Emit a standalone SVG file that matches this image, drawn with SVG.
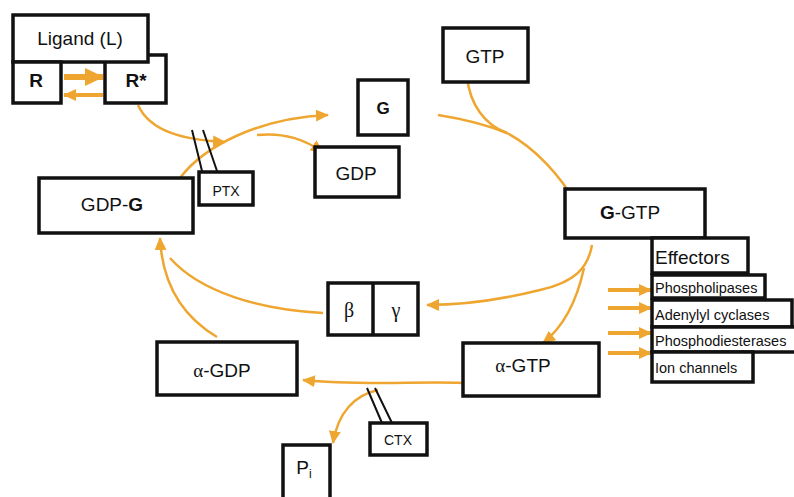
<svg xmlns="http://www.w3.org/2000/svg" width="794" height="497" viewBox="0 0 794 497">
<style>
.box{fill:#fff;stroke:#111;stroke-width:3.5}
.t{font-family:"Liberation Sans",Arial,sans-serif;font-size:19px;fill:#111;text-anchor:middle}
.s{font-family:"Liberation Serif","Times New Roman",serif;font-size:20px;fill:#111;text-anchor:middle}
.e{font-family:"Liberation Sans",Arial,sans-serif;font-size:14.5px;fill:#111}
.c{fill:none;stroke:#EFA630;stroke-width:2.5}
.tox{stroke:#111;stroke-width:2;fill:none}
</style>
<defs>
<marker id="ah" markerUnits="userSpaceOnUse" markerWidth="20" markerHeight="18" refX="18" refY="9" orient="auto">
<path d="M0,0 L19,9 L0,18 Z" fill="#EFA630"/>
</marker>
<marker id="ahs" markerUnits="userSpaceOnUse" markerWidth="14" markerHeight="12" refX="12" refY="6" orient="auto">
<path d="M0,0 L13,6 L0,12 Z" fill="#EFA630"/>
</marker>
</defs>

<g id="connectors">
<path class="c" d="M64,77 L103,77" style="stroke-width:6" marker-end="url(#ah)"/>
<path class="c" d="M103,95 L64,95" style="stroke-width:4" marker-end="url(#ahs)"/>
<path class="c" d="M138,105 C150,132 185,140 225,142" marker-end="url(#ahs)"/>
<path class="c" d="M180,178 C205,145 260,118 328,115" marker-end="url(#ahs)"/>
<path class="c" d="M257,135 C285,132 305,140 323,152" marker-end="url(#ahs)"/>
<path class="c" d="M467,77 C470,105 485,125 507,133"/>
<path class="c" d="M438,115 C470,120 492,127 507,133 C535,148 560,175 577,205" marker-end="url(#ahs)"/>
<path class="c" d="M592,245 C588,268 575,282 540,290 C500,300 460,305 427,305" marker-end="url(#ahs)"/>
<path class="c" d="M584,268 C576,305 562,328 543,343" marker-end="url(#ahs)"/>
<path class="c" d="M463,383 C420,381 360,386 303,380" marker-end="url(#ahs)"/>
<path class="c" d="M378,390 C355,395 338,412 333,443" marker-end="url(#ahs)"/>
<path class="c" d="M217,337 C180,315 162,280 160,238" marker-end="url(#ahs)"/>
<path class="c" d="M323,313 C260,310 200,292 170,258"/>
<path class="c" d="M608,290 L651,290" style="stroke-width:4" marker-end="url(#ahs)"/>
<path class="c" d="M608,308 L651,308" style="stroke-width:4" marker-end="url(#ahs)"/>
<path class="c" d="M608,333 L651,333" style="stroke-width:4" marker-end="url(#ahs)"/>
<path class="c" d="M608,353 L651,353" style="stroke-width:4" marker-end="url(#ahs)"/>
<path class="tox" d="M192,130 L202,171 M203,130 L217,171"/>
<path class="tox" d="M367,388 L382,423 M375,388 L392,423"/>
</g>

<g id="node-rstar"><rect class="box" x="105" y="55" width="61" height="48"/><text class="t" x="136" y="87" style="font-weight:bold">R*</text></g>
<g id="node-ligand"><rect class="box" x="13" y="15" width="135" height="47"/><text class="t" x="80" y="45">Ligand (L)</text></g>
<g id="node-r"><rect class="box" x="13" y="62" width="48" height="41"/><text class="t" x="36" y="87" style="font-weight:bold">R</text></g>
<g id="node-g"><rect class="box" x="358" y="80" width="50" height="55"/><text class="t" x="383" y="114" style="font-weight:bold;font-size:17px">G</text></g>
<g id="node-gtp"><rect class="box" x="443" y="28" width="85" height="54"/><text class="t" x="485" y="63">GTP</text></g>
<g id="node-gdp"><rect class="box" x="315" y="147" width="84" height="50"/><text class="t" x="356" y="180">GDP</text></g>
<g id="node-gdpg"><rect class="box" x="39" y="178" width="154" height="55"/><text class="t" x="112" y="211">GDP-<tspan style="font-weight:bold">G</tspan></text></g>
<g id="node-ptx"><rect class="box" x="199" y="172" width="54" height="33"/><text class="t" x="226" y="196" style="font-size:14px">PTX</text></g>
<g id="node-ggtp"><rect class="box" x="565" y="189" width="140" height="49"/><text class="t" x="630" y="219"><tspan style="font-weight:bold">G</tspan>-GTP</text></g>
<g id="node-effectors"><rect class="box" x="652" y="238" width="96" height="35"/><text class="e" x="655" y="264" style="font-size:19px">Effectors</text></g>
<g id="node-phospholipases"><rect class="box" x="652" y="275" width="113" height="23"/><text class="e" x="655" y="293">Phospholipases</text></g>
<g id="node-adenylyl"><rect class="box" x="652" y="300" width="140" height="27"/><text class="e" x="655" y="320">Adenylyl cyclases</text></g>
<g id="node-phosphodiesterases"><rect class="box" x="652" y="327" width="150" height="25"/><text class="e" x="655" y="346">Phosphodiesterases</text></g>
<g id="node-ion"><rect class="box" x="652" y="352" width="101" height="30"/><text class="e" x="655" y="373">Ion channels</text></g>
<g id="node-betagamma"><rect class="box" x="328" y="283" width="90" height="52"/><line x1="373" y1="283" x2="373" y2="335" stroke="#111" stroke-width="3.5"/><text class="s" x="349" y="317">β</text><text class="s" x="396" y="317">γ</text></g>
<g id="node-agtp"><rect class="box" x="463" y="343" width="136" height="53"/><text class="t" x="523" y="372"><tspan style="font-family:'Liberation Serif',serif">α</tspan>-GTP</text></g>
<g id="node-agdp"><rect class="box" x="157" y="342" width="140" height="53"/><text class="t" x="222" y="377"><tspan style="font-family:'Liberation Serif',serif">α</tspan>-GDP</text></g>
<g id="node-ctx"><rect class="box" x="370" y="423" width="57" height="32"/><text class="t" x="398" y="445" style="font-size:14px">CTX</text></g>
<g id="node-pi"><rect class="box" x="283" y="445" width="47" height="56"/><text class="t" x="304" y="474">P<tspan style="font-size:12px" dy="4">i</tspan></text></g>
</svg>
